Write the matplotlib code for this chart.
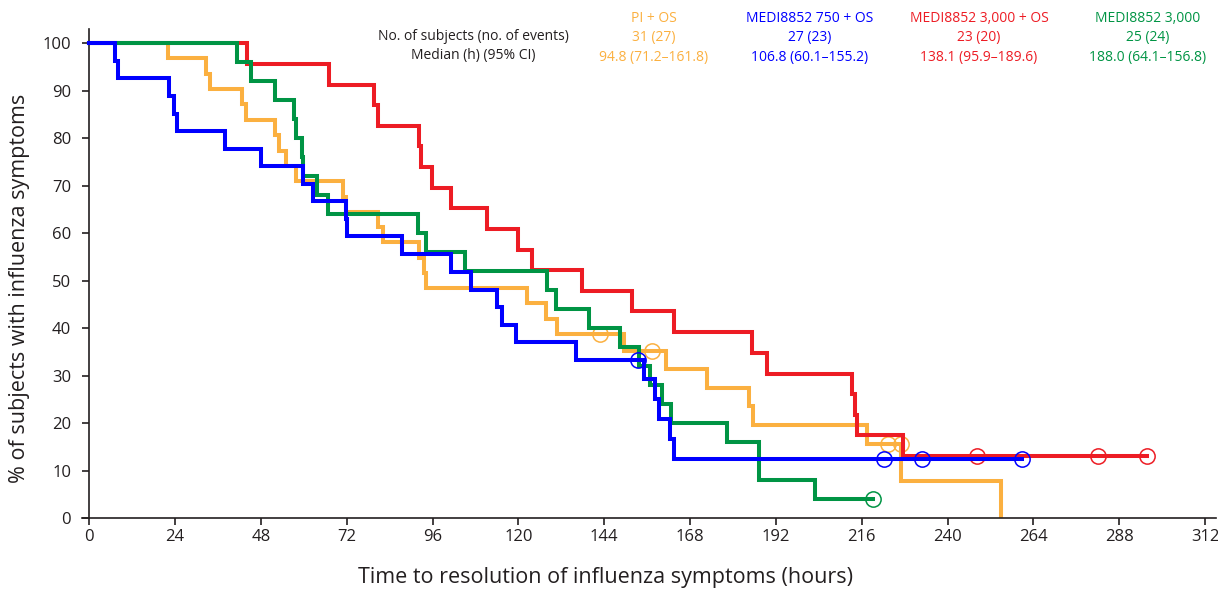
import matplotlib.pyplot as plt

plt.rcParams['font.family'] = ['Open Sans', 'DejaVu Sans']

# Kaplan-Meier steps (time in hours, % with symptoms)
pi_t = [0, 22.1, 32.6, 33.7, 42.8, 43.9, 52.0, 53.1, 55.0, 57.8, 71.0, 71.9, 80.7, 82.2,
        92.3, 93.7, 94.3, 122.5, 127.7, 130.7, 149.6, 161.2, 172.8, 184.4, 185.7, 217.5,
        227.1, 255.0]
pi_v = [100, 96.8, 93.5, 90.3, 87.1, 83.9, 80.6, 77.4, 74.2, 71.0, 67.7, 64.5, 61.3, 58.1,
        54.8, 51.6, 48.4, 45.2, 41.9, 38.7, 35.2, 31.3, 27.4, 23.5, 19.6, 15.6, 7.8, 0]
pi_cens_t = [142.7, 157.4, 223.2, 227.1]
pi_cens_v = [38.7, 35.2, 15.6, 15.6]

d750_t = [0, 7.2, 8.1, 22.3, 23.8, 24.6, 37.9, 48.1, 59.9, 62.7, 71.7, 72.1, 87.4, 101.2,
          106.7, 113.9, 115.3, 119.4, 136.0, 155.1, 158.1, 159.2, 162.3, 163.6, 260.9]
d750_v = [100, 96.3, 92.6, 88.9, 85.2, 81.5, 77.8, 74.1, 70.4, 66.7, 63.0, 59.3, 55.6, 51.9,
          48.1, 44.4, 40.7, 37.0, 33.3, 29.2, 25.0, 20.8, 16.7, 12.5, 12.5]
d750_cens_t = [153.5, 222.1, 232.7, 260.9]
d750_cens_v = [33.3, 12.5, 12.5, 12.5]

d3000os_t = [0, 44.2, 67.1, 79.6, 80.7, 92.1, 92.9, 95.9, 101.2, 111.2, 119.8, 123.9, 137.9,
             151.8, 163.4, 185.2, 189.4, 213.3, 214.0, 214.7, 227.5, 295.7]
d3000os_v = [100, 95.7, 91.3, 87.0, 82.6, 78.3, 73.9, 69.6, 65.2, 60.9, 56.5, 52.2, 47.8,
             43.5, 39.1, 34.8, 30.4, 26.1, 21.7, 17.4, 13.0, 13.0]
d3000os_cens_t = [248.1, 282.1, 295.7]
d3000os_cens_v = [13.0, 13.0, 13.0]

d3000_t = [0, 41.3, 45.3, 52.0, 57.2, 57.8, 59.4, 59.9, 63.8, 66.9, 91.8, 94.2, 105.1, 128.0,
           130.5, 139.7, 148.5, 153.7, 156.8, 160.1, 162.6, 178.3, 187.2, 203.0, 219.1]
d3000_v = [100, 96, 92, 88, 84, 80, 76, 72, 68, 64, 60, 56, 52, 48, 44, 40, 36, 32, 28, 24,
           20, 16, 8, 4, 4]
d3000_cens_t = [219.1]
d3000_cens_v = [4]

group_names = ['PI + OS', 'MEDI8852 750 + OS', 'MEDI8852 3,000 + OS', 'MEDI8852 3,000']
group_n = ['31 (27)', '27 (23)', '23 (20)', '25 (24)']
group_median = ['94.8 (71.2\u2013161.8)', '106.8 (60.1\u2013155.2)',
                '138.1 (95.9\u2013189.6)', '188.0 (64.1\u2013156.8)']
group_colors = ['#fbb040', '#0000ff', '#ed1c24', '#009444']

x_ticks = list(range(0, 313, 24))
y_ticks = list(range(0, 101, 10))

fig = plt.figure(figsize=(12.18, 5.92), dpi=100)
ax = fig.add_axes([0.0673, 0.125, 0.931, 0.826])

series = [
    (pi_t, pi_v, pi_cens_t, pi_cens_v, group_colors[0], 2),
    (d3000os_t, d3000os_v, d3000os_cens_t, d3000os_cens_v, group_colors[2], 3),
    (d3000_t, d3000_v, d3000_cens_t, d3000_cens_v, group_colors[3], 4),
    (d750_t, d750_v, d750_cens_t, d750_cens_v, group_colors[1], 5),
]
for t, v, ct, cv, col, z in series:
    ax.step(t, v, where='post', color=col, lw=2.9, zorder=z, solid_joinstyle='miter')
    ax.plot(ct, cv, 'o', ms=11, mfc='none', mec=col, mew=1.1, zorder=z + 0.5)

ax.set_xlim(-2, 315)
ax.set_ylim(0, 103)
ax.spines['left'].set_position(('data', 0))
ax.spines['top'].set_visible(False)
ax.spines['right'].set_visible(False)
for s in ('left', 'bottom'):
    ax.spines[s].set_color('#231f20')
    ax.spines[s].set_linewidth(1.2)
ax.set_xticks(x_ticks)
ax.set_yticks(y_ticks)
ax.tick_params(axis='both', direction='out', length=5, width=1.2, color='#231f20',
               labelsize=12, labelcolor='#231f20')
ax.tick_params(axis='x', pad=3)
ax.tick_params(axis='y', pad=8)

fig.text(606 / 1218, 1 - 578 / 592, 'Time to resolution of influenza symptoms (hours)',
         ha='center', va='center', fontsize=15.5, color='#231f20')
fig.text(20 / 1218, 1 - 288 / 592, '% of subjects with influenza symptoms', rotation=90,
         ha='center', va='center', fontsize=15.5, color='#231f20')

fig.text(473 / 1218, 1 - 36 / 592, 'No. of subjects (no. of events)', ha='center',
         va='center', fontsize=10, color='#231f20')
fig.text(473 / 1218, 1 - 55 / 592, 'Median (h) (95% CI)', ha='center', va='center',
         fontsize=10, color='#231f20')
col_x = [654, 810, 979, 1148]
for name, n, med, col, cx in zip(group_names, group_n, group_median, group_colors, col_x):
    fig.text(cx / 1218, 1 - 18 / 592, name, ha='center', va='center', fontsize=10, color=col)
    fig.text(cx / 1218, 1 - 38 / 592, n, ha='center', va='center', fontsize=10, color=col)
    fig.text(cx / 1218, 1 - 58 / 592, med, ha='center', va='center', fontsize=10, color=col)

fig.savefig('out.png', dpi=100)
